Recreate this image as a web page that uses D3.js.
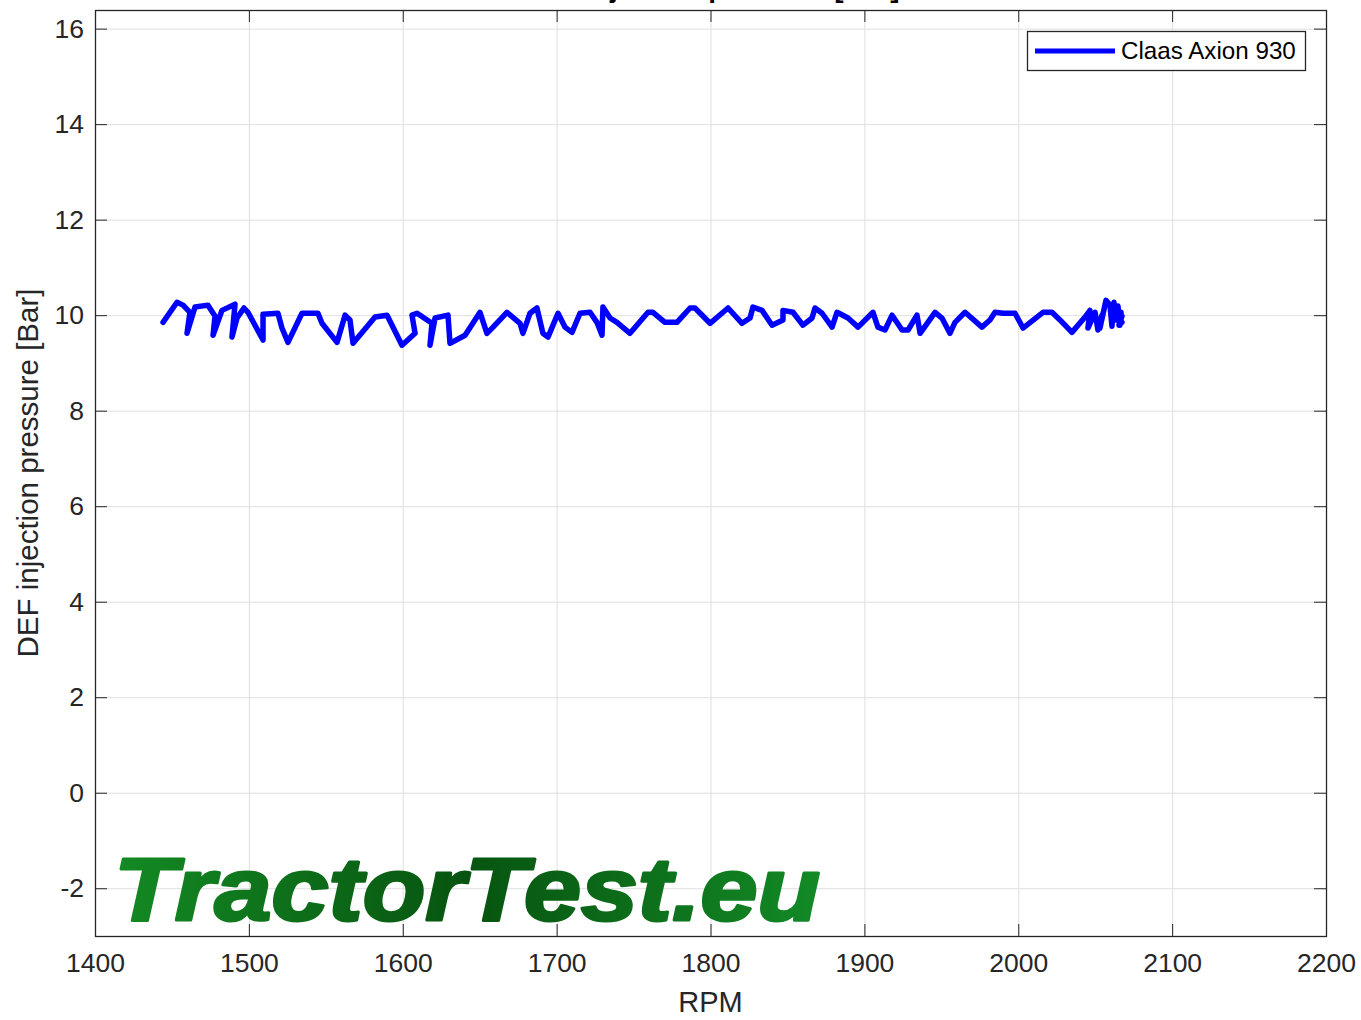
<!DOCTYPE html>
<html>
<head>
  <meta charset="utf-8">
  <title>DEF injection pressure</title>
  <style>
    body { margin: 0; background: #fff; }
    svg text { font-family: "Liberation Sans", Arial, Helvetica, sans-serif; fill: #262626; }
  </style>
</head>
<body>
  <svg width="1361" height="1020"></svg>
  <script src="https://cdn.jsdelivr.net/npm/d3@7"></script>
  <script>
  // values
  var seriesName = "Claas Axion 930";
  var rpm = [1444.2, 1453.3, 1457.2, 1461.7, 1459.8, 1465.0, 1473.4, 1478.0, 1476.7, 1482.5,
    1491.0, 1489.0, 1492.3, 1496.8, 1499.4, 1509.2, 1509.2, 1518.9, 1521.5, 1525.4,
    1534.5, 1544.9, 1547.5, 1557.3, 1562.5, 1565.7, 1567.7, 1582.0, 1589.8, 1599.5,
    1608.0, 1606.0, 1609.3, 1619.0, 1617.7, 1621.0, 1629.4, 1630.7, 1640.5, 1650.2,
    1654.7, 1658.7, 1667.7, 1676.2, 1678.1, 1682.7, 1687.2, 1691.1, 1694.4, 1700.9,
    1705.4, 1710.0, 1715.2, 1721.7, 1726.2, 1729.5, 1730.1, 1734.7, 1739.2, 1747.7,
    1759.4, 1762.6, 1770.4, 1778.2, 1786.7, 1789.9, 1799.7, 1811.4, 1820.5, 1825.7,
    1827.6, 1833.5, 1840.0, 1847.1, 1847.1, 1853.6, 1860.1, 1866.0, 1867.9, 1872.5,
    1879.0, 1882.2, 1889.4, 1895.9, 1905.6, 1908.8, 1913.4, 1918.0, 1924.5, 1928.4,
    1934.2, 1936.2, 1945.9, 1950.4, 1955.6, 1958.9, 1965.4, 1976.4, 1981.6, 1984.9,
    1990.1, 1997.9, 2003.1, 2016.1, 2021.9, 2027.1, 2034.9, 2043.4, 2046.6, 2045.3,
    2049.9, 2051.8, 2054.4, 2053.1, 2057.0, 2059.6, 2060.9, 2062.2, 2063.5, 2064.8,
    2066.1, 2066.8, 2065.5, 2067.4, 2064.2, 2067.4];
  var pressure = [9.85, 10.27, 10.21, 10.06, 9.62, 10.17, 10.21, 9.98, 9.58, 10.10,
    10.23, 9.54, 9.94, 10.15, 10.06, 9.48, 10.02, 10.04, 9.73, 9.43,
    10.04, 10.04, 9.83, 9.43, 10.00, 9.90, 9.41, 9.96, 10.00, 9.37,
    9.62, 10.00, 10.04, 9.83, 9.37, 9.94, 10.00, 9.41, 9.58, 10.06,
    9.62, 9.75, 10.06, 9.83, 9.62, 10.04, 10.15, 9.62, 9.54, 10.04,
    9.75, 9.64, 10.04, 10.06, 9.85, 9.58, 10.17, 9.94, 9.85, 9.62,
    10.06, 10.06, 9.85, 9.85, 10.15, 10.15, 9.83, 10.15, 9.83, 9.94,
    10.17, 10.10, 9.79, 9.90, 10.10, 10.06, 9.79, 9.94, 10.15, 10.04,
    9.75, 10.06, 9.94, 9.75, 10.06, 9.75, 9.69, 10.00, 9.69, 9.69,
    10.00, 9.62, 10.06, 9.94, 9.62, 9.85, 10.06, 9.75, 9.90, 10.06,
    10.04, 10.04, 9.73, 10.06, 10.06, 9.90, 9.64, 9.96, 10.10, 9.73,
    10.06, 9.69, 10.00, 9.73, 10.31, 10.21, 9.77, 10.27, 9.90, 10.19,
    9.79, 10.06, 9.79, 9.98, 9.90, 9.85];
  var xTicks = [1400, 1500, 1600, 1700, 1800, 1900, 2000, 2100, 2200];
  var yTicks = [-2, 0, 2, 4, 6, 8, 10, 12, 14, 16];

  // 1. scales
  var svg = d3.select("svg");
  var plotL = 95, plotR = 1326, plotT = 10, plotB = 936;
  var x = d3.scaleLinear().domain([1400, 2200]).range([plotL, plotR]);
  var y = d3.scaleLinear().domain([-3, 16.39]).range([plotB, plotT]);
  var fmt = function(d) { return String(d); };

  // 2. grid
  svg.append("g")
    .attr("transform", "translate(0," + plotB + ")")
    .call(d3.axisBottom(x).tickValues(xTicks).tickSize(-(plotB - plotT)).tickFormat(""))
    .call(function(g) {
      g.select(".domain").remove();
      g.selectAll("line").attr("stroke", "#dfdfdf").attr("stroke-width", 1);
    });
  svg.append("g")
    .attr("transform", "translate(" + plotL + ",0)")
    .call(d3.axisLeft(y).tickValues(yTicks).tickSize(-(plotR - plotL)).tickFormat(""))
    .call(function(g) {
      g.select(".domain").remove();
      g.selectAll("line").attr("stroke", "#dfdfdf").attr("stroke-width", 1);
    });

  // 3. watermark
  var grad = svg.append("defs").append("linearGradient")
    .attr("id", "wm")
    .attr("gradientUnits", "userSpaceOnUse")
    .attr("x1", 113).attr("x2", 823).attr("y1", 0).attr("y2", 0);
  grad.append("stop").attr("offset", "0%").attr("stop-color", "#148a24");
  grad.append("stop").attr("offset", "50%").attr("stop-color", "#075410");
  grad.append("stop").attr("offset", "100%").attr("stop-color", "#138a26");

  svg.append("text")
    .attr("x", 114)
    .attr("y", 920)
    .attr("textLength", 706)
    .attr("lengthAdjust", "spacingAndGlyphs")
    .style("font-size", "89px")
    .style("font-weight", "bold")
    .style("font-style", "italic")
    .style("fill", "url(#wm)")
    .style("stroke", "url(#wm)")
    .style("stroke-width", 3)
    .style("stroke-linejoin", "round")
    .text("TractorTest.eu");

  // 4. data line
  var pts = rpm.map(function(r, i) { return [r, pressure[i]]; });
  svg.append("path")
    .datum(pts)
    .attr("fill", "none")
    .attr("stroke", "#0000ff")
    .attr("stroke-width", 5.5)
    .attr("stroke-linejoin", "round")
    .attr("stroke-linecap", "round")
    .attr("d", d3.line()
      .x(function(d) { return x(d[0]); })
      .y(function(d) { return y(d[1]); }));

  // 5. axes (ticks pointing inwards, box on)
  function styleAxis(g) {
    g.select(".domain").remove();
    g.selectAll("line").attr("stroke", "#262626");
    g.selectAll("text").style("font-size", "26.5px").attr("fill", "#262626");
  }
  svg.append("g")
    .attr("transform", "translate(0," + plotB + ")")
    .call(d3.axisBottom(x).tickValues(xTicks).tickSizeInner(-12).tickSizeOuter(0)
      .tickPadding(17).tickFormat(fmt))
    .call(styleAxis);
  svg.append("g")
    .attr("transform", "translate(0," + plotT + ")")
    .call(d3.axisTop(x).tickValues(xTicks).tickSizeInner(-12).tickSizeOuter(0).tickFormat(""))
    .call(styleAxis);
  svg.append("g")
    .attr("transform", "translate(" + plotL + ",0)")
    .call(d3.axisLeft(y).tickValues(yTicks).tickSizeInner(-12).tickSizeOuter(0)
      .tickPadding(11).tickFormat(fmt))
    .call(styleAxis);
  svg.append("g")
    .attr("transform", "translate(" + plotR + ",0)")
    .call(d3.axisRight(y).tickValues(yTicks).tickSizeInner(-12).tickSizeOuter(0).tickFormat(""))
    .call(styleAxis);

  svg.append("rect")
    .attr("x", plotL + 0.5).attr("y", plotT + 0.5)
    .attr("width", plotR - plotL).attr("height", plotB - plotT)
    .attr("fill", "none")
    .attr("stroke", "#262626")
    .attr("stroke-width", 1.3);

  // 6. labels
  svg.append("text")
    .attr("x", (plotL + plotR) / 2)
    .attr("y", 1012)
    .attr("text-anchor", "middle")
    .style("font-size", "29px")
    .text("RPM");

  svg.append("text")
    .attr("transform", "translate(38," + ((plotT + plotB) / 2) + ") rotate(-90)")
    .attr("text-anchor", "middle")
    .style("font-size", "29.5px")
    .text("DEF injection pressure [Bar]");

  svg.append("text")
    .attr("x", (plotL + plotR) / 2)
    .attr("y", -3)
    .attr("text-anchor", "middle")
    .style("font-size", "28px")
    .style("font-weight", "bold")
    .style("fill", "#000")
    .text("DEF injection pressure [Bar]");

  // 7. legend
  var lg = svg.append("g");
  lg.append("rect")
    .attr("x", 1027.5).attr("y", 31.5)
    .attr("width", 278).attr("height", 39)
    .attr("fill", "#fff")
    .attr("stroke", "#262626")
    .attr("stroke-width", 1.3);
  lg.append("line")
    .attr("x1", 1035).attr("x2", 1115)
    .attr("y1", 51).attr("y2", 51)
    .attr("stroke", "#0000ff")
    .attr("stroke-width", 5);
  lg.append("text")
    .attr("x", 1121)
    .attr("y", 51)
    .attr("dy", "0.35em")
    .style("font-size", "24.2px")
    .style("fill", "#000")
    .text(seriesName);
  </script>
</body>
</html>
